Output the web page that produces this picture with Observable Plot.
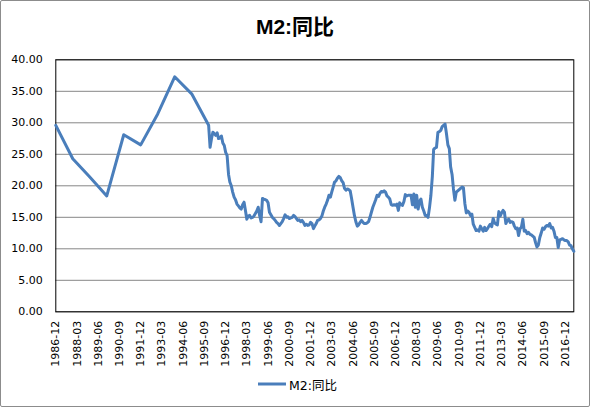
<!DOCTYPE html>
<html>
<head>
<meta charset="utf-8">
<script src="https://cdn.jsdelivr.net/npm/d3@7"></script>
<script src="https://cdn.jsdelivr.net/npm/@observablehq/plot@0.6"></script>
<style>
  html, body { margin: 0; padding: 0; background: #fff; }
  #frame { position: absolute; left: 0; top: 0; width: 588px; height: 405px; border: 1px solid #8c8c8c; border-radius: 2px; background: #fff; overflow: hidden; }
  #title { position: absolute; left: 0; top: 13px; width: 588px; text-align: center; font: bold 21px "Liberation Sans", Arial, "Noto Sans CJK SC", sans-serif; line-height: 26px; color: #000; }
  #chart { position: absolute; left: 0; top: 44px; }
  #legend { position: absolute; left: 257px; top: 374px; height: 18px; display: flex; align-items: center; font: 12.5px "DejaVu Sans", "Noto Sans CJK SC", sans-serif; color: #000; }
  #legend svg { margin-right: 3px; }
</style>
</head>
<body>
<div id="frame">
  <div id="title">M2:同比</div>
  <div id="chart"></div>
  <div id="legend"></div>
</div>
<script>
// ---- data ----
const seriesName = "M2:同比";
const annualDates = ["1986-12","1987-12","1988-12","1989-12","1990-12","1991-12","1992-12","1993-12","1994-12","1995-12"];
const annualValues = [29.6, 24.3, 21.4, 18.4, 28.1, 26.5, 31.4, 37.3, 34.6, 29.6];
const monthlyStart = "1996-01";
const monthlyValues = [
  26.1, 27.5, 28.5, 28.3, 28.0, 28.4, 27.5, 27.6, 27.9, 26.8, 26.4, 25.3, // 1996
  24.8, 21.8, 20.6, 20.0, 19.0, 18.2, 17.8, 17.1, 16.8, 16.5, 16.3, 17.0, // 1997
  17.4, 16.0, 14.7, 15.2, 15.3, 14.9, 15.0, 15.2, 15.6, 16.0, 16.6, 15.3, // 1998
  14.3, 18.0, 17.9, 17.8, 17.7, 17.3, 15.8, 15.4, 15.0, 14.8, 14.5, 14.2, // 1999
  14.0, 13.7, 14.0, 14.3, 14.8, 15.4, 15.0, 15.1, 14.8, 14.9, 15.0, 15.3, // 2000
  15.1, 14.8, 14.5, 14.6, 14.3, 14.5, 14.2, 13.7, 13.9, 13.7, 13.8, 14.2, // 2001
  14.0, 13.2, 13.6, 14.0, 14.5, 14.6, 14.8, 15.2, 16.0, 16.6, 17.1, 17.7, // 2002
  18.5, 18.2, 19.0, 19.8, 20.6, 20.8, 21.2, 21.5, 21.3, 20.8, 20.5, 19.6, // 2003
  19.3, 19.5, 19.4, 19.2, 18.0, 16.6, 15.3, 14.3, 13.6, 13.8, 14.2, 14.5, // 2004
  14.2, 14.0, 14.0, 14.1, 14.3, 15.0, 15.8, 16.6, 17.2, 17.8, 18.5, 18.3, // 2005
  18.8, 19.1, 19.0, 19.2, 19.0, 18.4, 18.2, 17.9, 17.0, 16.9, 17.0, 16.9, // 2006
  17.1, 16.1, 17.3, 17.0, 16.9, 17.5, 18.6, 18.4, 18.5, 18.5, 18.5, 17.0, // 2007
  18.7, 16.6, 18.5, 16.3, 17.5, 17.9, 16.6, 16.0, 15.3, 15.3, 15.0, 16.5, // 2008
  18.5, 21.5, 25.8, 26.0, 26.1, 28.5, 28.6, 28.8, 29.4, 29.6, 29.8, 28.3, // 2009
  26.5, 25.9, 23.0, 21.8, 19.5, 17.7, 19.0, 19.2, 19.4, 19.6, 19.8, 19.7, // 2010
  17.2, 15.7, 16.0, 15.8, 15.3, 15.5, 13.9, 13.4, 12.9, 13.0, 12.8, 13.6, // 2011
  13.2, 12.8, 13.4, 12.9, 13.2, 13.6, 13.9, 13.5, 14.8, 14.1, 13.9, 13.8, // 2012
  15.9, 15.2, 15.7, 16.1, 15.8, 14.0, 14.5, 14.7, 14.2, 14.3, 14.2, 13.6, // 2013
  13.2, 13.3, 12.1, 13.2, 13.4, 14.7, 12.8, 12.9, 12.4, 12.6, 12.3, 12.2, // 2014
  12.0, 11.8, 11.0, 10.3, 10.6, 11.8, 12.5, 13.3, 13.1, 13.5, 13.7, 13.6, // 2015
  14.0, 13.3, 13.4, 12.8, 11.8, 11.8, 10.2, 11.4, 11.5, 11.6, 11.4, 11.3, // 2016
  11.3, 11.1, 10.6, 10.5, 10.0, 9.6                                      // 2017
];
const xDomain = ["1986-12", "2017-06"];
const xTickLabels = ["1986-12","1988-03","1989-06","1990-09","1991-12","1993-03","1994-06","1995-09","1996-12","1998-03","1999-06","2000-09","2001-12","2003-03","2004-06","2005-09","2006-12","2008-03","2009-06","2010-09","2011-12","2013-03","2014-06","2015-09","2016-12"];
const yTicks = [0, 5, 10, 15, 20, 25, 30, 35, 40];

// ---- build table ----
const parseYM = d3.utcParse("%Y-%m");
const data = [];
annualDates.forEach((d, i) => data.push({date: parseYM(d), value: annualValues[i]}));
const start = parseYM(monthlyStart);
monthlyValues.forEach((v, i) => data.push({date: d3.utcMonth.offset(start, i), value: v}));

const lineColor = "#4a7ebb";

const chart = Plot.plot({
  width: 588,
  height: 330,
  marginLeft: 54.3,
  marginRight: 15.7,
  marginTop: 14.3,
  marginBottom: 63.7,
  style: {fontFamily: "'DejaVu Sans', sans-serif", fontSize: "11px", color: "#000", background: "transparent"},
  x: {
    type: "utc",
    domain: xDomain.map(parseYM),
    ticks: xTickLabels.map(parseYM),
    tickFormat: d3.utcFormat("%Y-%m"),
    tickRotate: -90,
    tickSize: 0,
    tickPadding: 9,
    label: null
  },
  y: {
    domain: [0, 40],
    ticks: yTicks,
    tickFormat: d => d.toFixed(2),
    tickSize: 0,
    tickPadding: 13,
    label: null
  },
  marks: [
    Plot.gridY(yTicks, {stroke: "#868686", strokeOpacity: 1, strokeWidth: 1}),
    Plot.frame({stroke: "#000", strokeWidth: 1}),
    Plot.lineY(data, {x: "date", y: "value", stroke: lineColor, strokeWidth: 3, strokeLinejoin: "round"})
  ]
});
document.getElementById("chart").appendChild(chart);

// legend
const leg = document.getElementById("legend");
const ns = "http://www.w3.org/2000/svg";
const ls = document.createElementNS(ns, "svg");
ls.setAttribute("width", 28); ls.setAttribute("height", 10);
const ln = document.createElementNS(ns, "line");
ln.setAttribute("x1", 0); ln.setAttribute("x2", 28); ln.setAttribute("y1", 5); ln.setAttribute("y2", 5);
ln.setAttribute("stroke", lineColor); ln.setAttribute("stroke-width", 3);
ls.appendChild(ln);
leg.appendChild(ls);
const lt = document.createElement("span");
lt.textContent = seriesName;
leg.appendChild(lt);
</script>
</body>
</html>
